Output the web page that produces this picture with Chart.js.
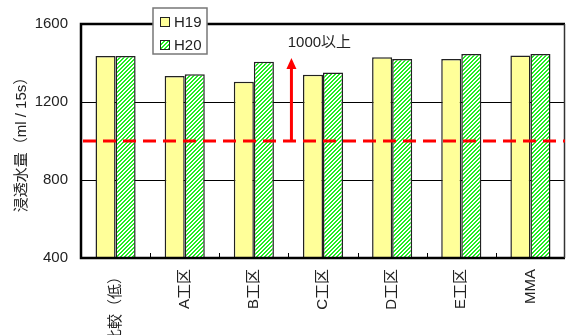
<!DOCTYPE html>
<html>
<head>
<meta charset="utf-8">
<script src="https://cdn.jsdelivr.net/npm/chart.js@4/dist/chart.umd.min.js"></script>
<style>
  html, body { margin: 0; padding: 0; background: #fff; }
  #wrap { width: 566px; height: 335px; }
</style>
</head>
<body>
<div id="wrap"><canvas id="shinto"></canvas></div>
<script>
const categories = ['比較（低）', 'A工区', 'B工区', 'C工区', 'D工区', 'E工区', 'MMA']
const h19 = [1436, 1333, 1304, 1340, 1429, 1421, 1439]
const h20 = [1436, 1342, 1407, 1351, 1421, 1446, 1446]
const yTicks = [400, 800, 1200, 1600]
const threshold = 1000
const thresholdLabel = '1000以上'
const arrowTo = 1426

const FONT = "'Liberation Sans', Arial, 'Noto Sans CJK JP', sans-serif"

// green diagonal hatch for H20
const makeHatch = () => {
    const c = document.createElement('canvas')
    c.width = 4
    c.height = 4
    const g = c.getContext('2d')
    g.fillStyle = '#ffffff'
    g.fillRect(0, 0, 4, 4)
    g.fillStyle = '#22ee22'
    for (let y = 0; y < 4; y++) {
        for (let x = 0; x < 4; x++) {
            if ((x + y) % 4 === 0 || (x + y) % 4 === 1) g.fillRect(x, y, 1, 1)
        }
    }
    return g.createPattern(c, 'repeat')
}
const hatch = makeHatch()
const yellow = '#ffff99'

const overlay = {
    id: 'overlay',
    afterDatasetsDraw(chart) {
        const { ctx, chartArea: a, scales: { x, y } } = chart
        ctx.save()

        // frame
        ctx.strokeStyle = '#000'
        ctx.lineWidth = 2.5
        ctx.beginPath()
        ctx.moveTo(a.right, a.top)
        ctx.lineTo(a.left, a.top)
        ctx.lineTo(a.left, a.bottom)
        ctx.lineTo(a.right, a.bottom)
        ctx.stroke()
        ctx.strokeStyle = '#333'
        ctx.lineWidth = 1.5
        ctx.beginPath()
        ctx.moveTo(a.right - 0.5, a.top)
        ctx.lineTo(a.right - 0.5, a.bottom)
        ctx.stroke()

        // small inward ticks between categories
        ctx.strokeStyle = '#000'
        ctx.lineWidth = 1
        for (let i = 0; i < categories.length - 1; i++) {
            const px = Math.round(x.getPixelForValue(i + 0.5)) + 0.5
            ctx.beginPath()
            ctx.moveTo(px, a.bottom)
            ctx.lineTo(px, a.bottom - 5)
            ctx.stroke()
        }

        // threshold line
        const ty = y.getPixelForValue(threshold)
        ctx.strokeStyle = '#ff0000'
        ctx.lineWidth = 3
        ctx.setLineDash([13, 7])
        ctx.beginPath()
        ctx.moveTo(a.left + 2, ty)
        ctx.lineTo(a.right, ty)
        ctx.stroke()
        ctx.setLineDash([])

        // arrow
        const ax = x.getPixelForValue(2.5) + 3
        const top = y.getPixelForValue(arrowTo)
        ctx.lineWidth = 3
        ctx.beginPath()
        ctx.moveTo(ax, ty)
        ctx.lineTo(ax, top + 9)
        ctx.stroke()
        ctx.fillStyle = '#ff0000'
        ctx.beginPath()
        ctx.moveTo(ax, top)
        ctx.lineTo(ax - 5, top + 11)
        ctx.lineTo(ax + 5, top + 11)
        ctx.closePath()
        ctx.fill()

        ctx.fillStyle = '#222'
        ctx.font = '15px ' + FONT
        ctx.textAlign = 'center'
        ctx.textBaseline = 'middle'
        ctx.fillText(thresholdLabel, ax + 28, top - 15)

        // legend
        const lx = 153, ly = 8, lw = 54, lh = 46
        ctx.fillStyle = '#fff'
        ctx.fillRect(lx, ly, lw, lh)
        ctx.strokeStyle = '#777'
        ctx.lineWidth = 1.5
        ctx.strokeRect(lx, ly, lw, lh)
        const items = [[chart.data.datasets[0], ly + 14], [chart.data.datasets[1], ly + 37]]
        items.forEach(([ds, cy]) => {
            ctx.fillStyle = ds.backgroundColor
            ctx.fillRect(lx + 7, cy - 5, 9, 9)
            ctx.strokeStyle = '#222'
            ctx.lineWidth = 1
            ctx.strokeRect(lx + 7.5, cy - 4.5, 9, 9)
            ctx.fillStyle = '#222'
            ctx.textAlign = 'left'
            ctx.fillText(ds.label, lx + 21, cy + 1)
        })

        ctx.restore()
    }
}

new Chart(document.getElementById('shinto').getContext('2d'), {
    type: 'bar',
    data: {
        labels: categories,
        datasets: [{
            label: 'H19',
            data: h19,
            backgroundColor: yellow,
            borderColor: '#222',
            borderWidth: 1.5,
            borderSkipped: 'bottom'
        }, {
            label: 'H20',
            data: h20,
            backgroundColor: hatch,
            borderColor: '#222',
            borderWidth: 1.5,
            borderSkipped: 'bottom'
        }]
    },
    options: {
        responsive: true,
        maintainAspectRatio: false,
        animation: false,
        layout: { padding: { top: 24, right: 1, left: 0, bottom: 0 } },
        datasets: { bar: { categoryPercentage: 0.58, barPercentage: 1 } },
        plugins: {
            legend: { display: false },
            tooltip: { enabled: false }
        },
        scales: {
            x: {
                grid: { display: false, drawTicks: false },
                border: { display: false },
                afterFit: (s) => { s.height = 77 },
                ticks: {
                    autoSkip: false,
                    minRotation: 90,
                    maxRotation: 90,
                    padding: 11,
                    color: '#222',
                    font: { family: FONT, size: 15 }
                }
            },
            y: {
                min: 400,
                max: 1600,
                afterFit: (s) => { s.width = 81 },
                afterBuildTicks: (s) => { s.ticks = yTicks.map(v => ({ value: v })) },
                grid: { color: '#000', lineWidth: 1, drawTicks: false },
                border: { display: false },
                ticks: {
                    padding: 13,
                    color: '#222',
                    font: { family: FONT, size: 15 },
                    callback: (v) => String(v)
                },
                title: {
                    display: true,
                    text: '浸透水量（ml / 15s）',
                    color: '#222',
                    padding: { top: 13, bottom: 0 },
                    font: { family: FONT, size: 15 }
                }
            }
        }
    },
    plugins: [overlay]
})
</script>
</body>
</html>
